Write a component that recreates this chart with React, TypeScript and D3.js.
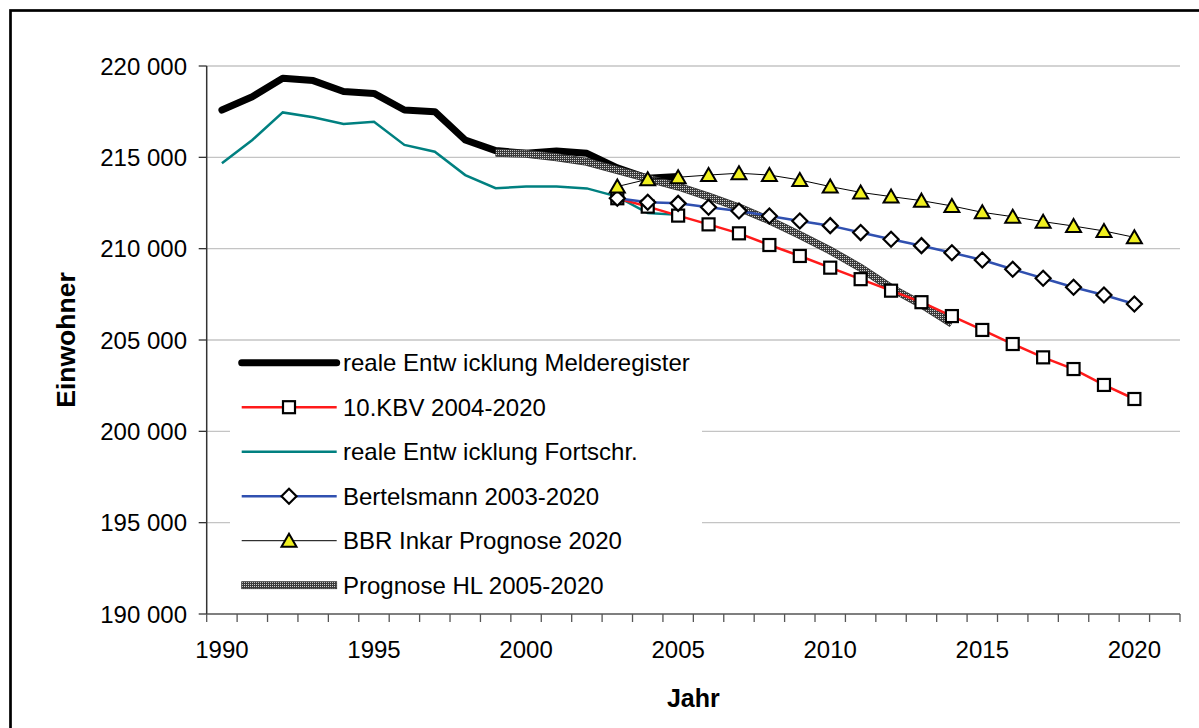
import React from "react";
import * as d3 from "d3";

const years: number[] = d3.range(1990, 2022);
const yTicks: number[] = [190000, 195000, 200000, 205000, 210000, 215000, 220000];
const xLabelYears: number[] = [1990, 1995, 2000, 2005, 2010, 2015, 2020];

// reale Entwicklung Melderegister 1990-2005
const melderYears: number[] = d3.range(1990, 2006);
const melderValues: number[] = [217590, 218320, 219330, 219200, 218600, 218500, 217590, 217500, 215950, 215370, 215220, 215350, 215220, 214420, 213850, 213950];

// reale Entwicklung Fortschreibung 1990-2005
const fortYears: number[] = d3.range(1990, 2006);
const fortValues: number[] = [214670, 215950, 217460, 217190, 216830, 216950, 215680, 215310, 214030, 213310, 213400, 213400, 213300, 212850, 211950, 211850];

// 10.KBV 2003-2020
const kbvYears: number[] = d3.range(2003, 2021);
const kbvValues: number[] = [212760, 212300, 211810, 211330, 210840, 210200, 209600, 208960, 208330, 207700, 207070, 206310, 205550, 204780, 204050, 203410, 202540, 201770];

// Bertelsmann 2003-2020
const bertYears: number[] = d3.range(2003, 2021);
const bertValues: number[] = [212760, 212540, 212480, 212270, 212060, 211790, 211515, 211260, 210880, 210515, 210165, 209780, 209380, 208870, 208380, 207890, 207460, 206970];

// BBR Inkar Prognose 2020
const bbrYears: number[] = d3.range(2003, 2021);
const bbrValues: number[] = [213400, 213800, 213910, 214030, 214130, 214030, 213760, 213400, 213080, 212850, 212630, 212340, 211990, 211750, 211480, 211240, 210970, 210620];

// Prognose HL 1999-2014
const hlYears: number[] = d3.range(1999, 2015);
const hlValues: number[] = [215250, 215200, 215000, 214750, 214300, 213850, 213400, 212850, 212250, 211550, 210750, 209900, 208950, 207850, 206950, 205900];

const legendLabels: string[] = [
  "reale Entw icklung Melderegister",
  "10.KBV 2004-2020",
  "reale Entw icklung Fortschr.",
  "Bertelsmann 2003-2020",
  "BBR Inkar Prognose 2020",
  "Prognose HL 2005-2020",
];

const FONT = "'Liberation Sans', Arial, sans-serif";

export default function App() {
  const W = 1199;
  const H = 728;
  const plotL = 206.7, plotR = 1180, plotT = 66, plotB = 614;

  const x = d3.scaleBand<number>().domain(years).range([plotL, plotR]).paddingInner(0).paddingOuter(0);
  const xc = (yr: number) => (x(yr) as number) + x.bandwidth() / 2;
  const y = d3.scaleLinear().domain([190000, 220000]).range([plotB, plotT]);

  const mk = (ys: number[], vs: number[]) =>
    d3.line<number>().x((_, i) => xc(ys[i])).y((v) => y(v))(vs) as string;

  const fmt = (v: number) => d3.format(",")(v).replace(/,/g, " ");

  const sq = 12, dm = 7.5;
  const square = (cx: number, cy: number, key: string | number) => (
    <rect key={key} x={cx - sq / 2} y={cy - sq / 2} width={sq} height={sq} fill="#fff" stroke="#000" strokeWidth={2.2} />
  );
  const diamond = (cx: number, cy: number, key: string | number) => (
    <path key={key} d={`M${cx},${cy - dm}L${cx + dm},${cy}L${cx},${cy + dm}L${cx - dm},${cy}Z`} fill="#fff" stroke="#000" strokeWidth={2.2} />
  );
  const triangle = (cx: number, cy: number, key: string | number) => (
    <path key={key} d={`M${cx},${cy - 7}L${cx + 7.5},${cy + 6}L${cx - 7.5},${cy + 6}Z`} fill="#f0f020" stroke="#000" strokeWidth={2} strokeLinejoin="miter" />
  );

  const boundaries = [...years.map((yr) => x(yr) as number), plotR];

  const legX1 = 241.7, legX2 = 336.7, legM = 289, legT = 343;
  const legY = (i: number) => 362.7 + i * 44.5;

  return (
    <svg width={W} height={H} style={{ position: "absolute", left: 0, top: 0, background: "#fff" }} fontFamily={FONT}>
      <defs>
        <pattern id="hl" patternUnits="userSpaceOnUse" width={2} height={2}>
          <rect width={2} height={2} fill="#3a3a3a" />
          <rect width={1} height={1} fill="#d0d0d0" />
        </pattern>
      </defs>
      <rect x={0} y={0} width={W} height={H} fill="#fff" />
      <rect x={10.5} y={10.5} width={1300} height={800} fill="none" stroke="#000" strokeWidth={2.7} />

      {/* gridlines */}
      {yTicks.filter((t) => t !== 190000).map((t) => (
        <line key={t} x1={plotL} x2={plotR} y1={y(t)} y2={y(t)} stroke="#c4c4c4" strokeWidth={1.3} />
      ))}

      {/* legend background */}
      <rect x={230} y={legT} width={472} height={258} fill="#fff" />

      {/* axes */}
      <line x1={plotL} x2={plotL} y1={plotT} y2={plotB} stroke="#333" strokeWidth={1.5} />
      <line x1={plotL} x2={plotR} y1={plotB} y2={plotB} stroke="#555" strokeWidth={1.5} />
      {yTicks.map((t) => (
        <g key={t}>
          <line x1={plotL - 8} x2={plotL} y1={y(t)} y2={y(t)} stroke="#333" strokeWidth={1.3} />
          <text x={187} y={y(t)} dy="0.36em" textAnchor="end" fontSize={24} fill="#000">{fmt(t)}</text>
        </g>
      ))}
      {boundaries.map((b, i) => (
        <line key={i} x1={b} x2={b} y1={plotB} y2={plotB + 8} stroke="#555" strokeWidth={1.3} />
      ))}
      {xLabelYears.map((yr) => (
        <text key={yr} x={xc(yr)} y={658} textAnchor="middle" fontSize={24} fill="#000">{yr}</text>
      ))}
      <text x={(plotL + plotR) / 2} y={707} textAnchor="middle" fontSize={25} fontWeight="bold">Jahr</text>
      <text transform={`translate(75,${(plotT + plotB) / 2}) rotate(-90)`} textAnchor="middle" fontSize={26.5} fontWeight="bold">Einwohner</text>

      {/* series lines */}
      <path d={mk(melderYears, melderValues)} fill="none" stroke="#000" strokeWidth={7} strokeLinejoin="round" strokeLinecap="round" />
      <path d={mk(fortYears, fortValues)} fill="none" stroke="#008080" strokeWidth={2.5} />
      <path d={mk(hlYears, hlValues)} fill="none" stroke="#333" strokeWidth={8} />
      <path d={mk(hlYears, hlValues)} fill="none" stroke="url(#hl)" strokeWidth={6.5} />
      <path d={mk(kbvYears, kbvValues)} fill="none" stroke="#ff1a1a" strokeWidth={2.5} />
      <path d={mk(bertYears, bertValues)} fill="none" stroke="#3050b0" strokeWidth={2.5} />
      <path d={mk(bbrYears, bbrValues)} fill="none" stroke="#000" strokeWidth={1} />

      {/* markers */}
      {kbvYears.map((yr, i) => square(xc(yr), y(kbvValues[i]), "k" + yr))}
      {bertYears.map((yr, i) => diamond(xc(yr), y(bertValues[i]), "b" + yr))}
      {bbrYears.map((yr, i) => triangle(xc(yr), y(bbrValues[i]), "t" + yr))}

      {/* legend */}
      <line x1={legX1} x2={legX2} y1={legY(0)} y2={legY(0)} stroke="#000" strokeWidth={7} strokeLinecap="round" />
      <line x1={legX1} x2={legX2} y1={legY(1)} y2={legY(1)} stroke="#ff1a1a" strokeWidth={2.5} />
      {square(legM, legY(1), "ls")}
      <line x1={legX1} x2={legX2} y1={legY(2)} y2={legY(2)} stroke="#008080" strokeWidth={2.5} />
      <line x1={legX1} x2={legX2} y1={legY(3)} y2={legY(3)} stroke="#3050b0" strokeWidth={2.5} />
      {diamond(legM, legY(3), "ld")}
      <line x1={legX1} x2={legX2} y1={legY(4)} y2={legY(4)} stroke="#000" strokeWidth={1} />
      {triangle(legM, legY(4), "lt")}
      <rect x={legX1} y={legY(5) - 3.5} width={legX2 - legX1} height={7} fill="url(#hl)" stroke="#333" strokeWidth={0.8} />
      {legendLabels.map((l, i) => (
        <text key={l} x={343} y={legY(i)} dy="0.36em" fontSize={24} fill="#000">{l}</text>
      ))}
    </svg>
  );
}
